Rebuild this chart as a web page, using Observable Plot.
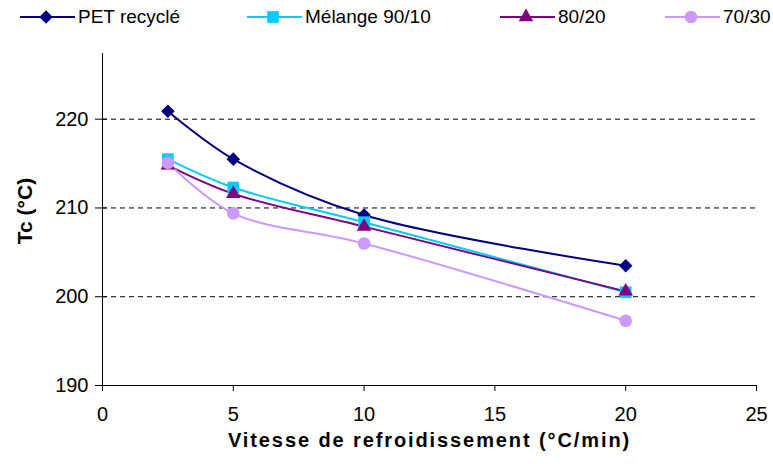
<!DOCTYPE html>
<html><head><meta charset="utf-8">
<script src="https://cdn.jsdelivr.net/npm/d3@7"></script>
<script src="https://cdn.jsdelivr.net/npm/@observablehq/plot@0.6"></script>
<style>
body{margin:0;background:#fff;font-family:"Liberation Sans",Arial,sans-serif;}
#wrap{position:relative;width:773px;height:464px;overflow:hidden;}
#legend{position:relative;width:773px;height:30px;}
.item{position:absolute;top:0;height:30px;}
.item svg{position:absolute;left:0;top:0;}
.item span{position:absolute;top:6px;font-size:19px;color:#000;white-space:nowrap;line-height:22px;}
#ytitle{position:absolute;left:25px;top:211px;transform:translate(-50%,-50%) rotate(-90deg);font-weight:bold;font-size:21px;white-space:nowrap;color:#000;}
</style></head>
<body><div id="wrap"><div id="legend"></div><div id="chart"></div><div id="ytitle"></div></div>
<script>
const xValues = [2.5, 5, 10, 20];
const seriesNames = ["PET recyclé", "Mélange 90/10", "80/20", "70/30"];
const petRecycle = [220.9, 215.5, 209.2, 203.5];
const melange9010 = [215.5, 212.3, 208.4, 200.5];
const melange8020 = [214.8, 211.6, 207.9, 200.6];
const melange7030 = [215.1, 209.4, 206.0, 197.3];
const xTicks = [0, 5, 10, 15, 20, 25];
const yTicks = [190, 200, 210, 220];
const gridValues = [200, 210, 220];
const colors = ["#000080", "#00CCFF", "#800080", "#CC99FF"];
const symbols = ["square", "square", "triangle", "circle"];
const xTitle = "Vitesse de refroidissement (°C/min)";
const yTitle = "Tc (°C)";

const allSeries = [petRecycle, melange9010, melange8020, melange7030];
const data = [];
allSeries.forEach((vals, si) => vals.forEach((v, i) => data.push({series: seriesNames[si], x: xValues[i], y: v})));

const color = {domain: seriesNames, range: colors};
const markSpecs = [
  {r: 5.4, rotate: 45},
  {r: 6.6, rotate: 0},
  {r: 5.4, rotate: 0},
  {r: 6.3, rotate: 0}
];

const marks = [
  Plot.ruleY(gridValues, {stroke: "#000", strokeDasharray: "5,4", strokeWidth: 1}),
  Plot.ruleX([0], {y1: 190, y2: 227.4, stroke: "#000", strokeWidth: 1}),
  Plot.ruleY([190], {stroke: "#000", strokeWidth: 1}),
  Plot.axisX({ticks: xTicks, tickSize: 6, tickPadding: 15, fontSize: 20, label: null}),
  Plot.axisY({ticks: yTicks, tickSize: 12, dx: 5, tickPadding: 7, fontSize: 20, label: null}),
  Plot.line(data, {x: "x", y: "y", z: "series", stroke: "series", strokeWidth: 2, curve: "catmull-rom"})
];
seriesNames.forEach((name, si) => {
  marks.push(Plot.dot(data.filter(d => d.series === name), {
    x: "x", y: "y", fill: colors[si], stroke: "none",
    symbol: symbols[si], r: markSpecs[si].r, rotate: markSpecs[si].rotate
  }));
});
marks.push(Plot.text([xTitle], {frameAnchor: "bottom", dy: 61, fontWeight: "bold", fontSize: 20, fill: "#000"}));

const plot = Plot.plot({
  width: 773, height: 434,
  marginLeft: 102, marginRight: 17, marginTop: 23, marginBottom: 79,
  style: {fontFamily: "Liberation Sans, Arial, sans-serif", color: "#000", background: "#fff"},
  x: {domain: [0, 25]},
  y: {domain: [190, 227.4]},
  color,
  marks
});
plot.querySelectorAll("text").forEach(t => {
  if (t.textContent === xTitle) t.setAttribute("letter-spacing", "1.9");
});
document.getElementById("chart").appendChild(plot);
document.getElementById("ytitle").textContent = yTitle;

// legend
const legendPos = [20, 247, 500, 665];
const legend = document.getElementById("legend");
seriesNames.forEach((name, si) => {
  const item = document.createElement("div");
  item.className = "item";
  item.style.left = legendPos[si] + "px";
  const svg = d3.create("svg").attr("width", 56).attr("height", 30);
  svg.append("line").attr("x1", 0).attr("x2", 55).attr("y1", 17).attr("y2", 17).attr("stroke", colors[si]).attr("stroke-width", 2);
  const sym = {square: d3.symbolSquare, triangle: d3.symbolTriangle, circle: d3.symbolCircle}[symbols[si]];
  const r = markSpecs[si].r;
  svg.append("path").attr("d", d3.symbol(sym, Math.PI * r * r)())
    .attr("transform", `translate(26,17) rotate(${markSpecs[si].rotate})`).attr("fill", colors[si]);
  item.appendChild(svg.node());
  const span = document.createElement("span");
  span.style.left = "58px";
  span.textContent = name;
  item.appendChild(span);
  legend.appendChild(item);
});
</script></body></html>
